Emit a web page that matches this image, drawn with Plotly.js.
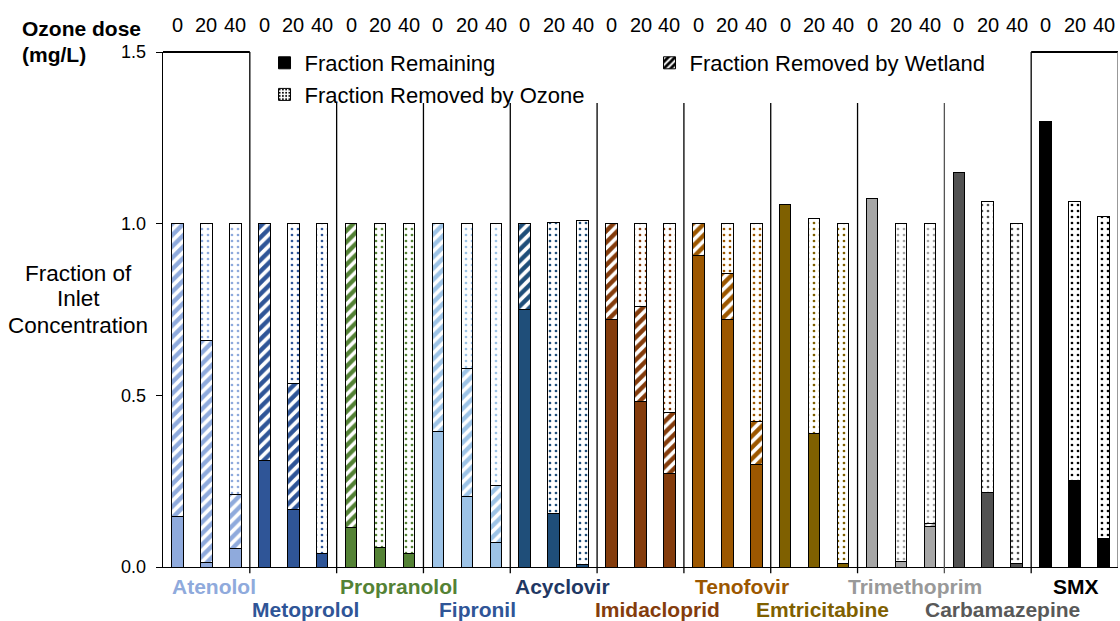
<!DOCTYPE html>
<html>
<head>
<meta charset="utf-8">
<script src="https://cdn.plot.ly/plotly-3.0.1.min.js"></script>
<style>html,body{margin:0;padding:0;background:#fff;}#chart{width:1120px;height:621px;}</style>
</head>
<body>
<div id="chart"></div>
<script>
// ---- data ----
const compounds = ['Atenolol','Metoprolol','Propranolol','Fipronil','Acyclovir','Imidacloprid','Tenofovir','Emtricitabine','Trimethoprim','Carbamazepine','SMX'];
const doses = ['0','20','40'];
// fraction remaining (one value per compound x dose)
const remaining = [
  0.147, 0.014, 0.054,
  0.311, 0.168, 0.039,
  0.115, 0.058, 0.039,
  0.396, 0.204, 0.071,
  0.749, 0.156, 0.006,
  0.721, 0.481, 0.272,
  0.906, 0.721, 0.300,
  1.055, 0.388, 0.011,
  1.072, 0.015, 0.119,
  1.149, 0.216, 0.011,
  1.298, 0.253, 0.084
];
// fraction removed by wetland
const wetland = [
  0.853, 0.646, 0.157,
  0.689, 0.366, 0.000,
  0.885, 0.000, 0.000,
  0.604, 0.373, 0.166,
  0.251, 0.000, 0.000,
  0.279, 0.277, 0.177,
  0.094, 0.134, 0.123,
  0.000, 0.000, 0.000,
  0.000, 0.000, 0.008,
  0.000, 0.000, 0.000,
  0.000, 0.000, 0.000
];
// fraction removed by ozone
const ozone = [
  0.000, 0.340, 0.789,
  0.000, 0.466, 0.961,
  0.000, 0.942, 0.961,
  0.000, 0.423, 0.763,
  0.000, 0.848, 1.002,
  0.000, 0.242, 0.551,
  0.000, 0.145, 0.577,
  0.000, 0.628, 0.989,
  0.000, 0.985, 0.873,
  0.000, 0.848, 0.989,
  0.000, 0.811, 0.936
];
const seriesNames = ['Fraction Remaining','Fraction Removed by Wetland','Fraction Removed by Ozone'];

// ---- styles ----
const barColors = ['#8FAADC','#2F5597','#548235','#9DC3E6','#1F4E79','#843C0C','#9C5700','#7F6000','#A6A6A6','#525252','#000000'];
const labelColors = ['#8FAADC','#2F5597','#548235','#2F5597','#1F3864','#843C0C','#9C5700','#7F6000','#999999','#595959','#000000'];
const labelShift = [8,12,19,11,9,17,15,8,14,15,1];
const FONT = '"Liberation Sans", Arial, sans-serif';

const xs = [], cols = [], doseLbl = [];
compounds.forEach((c, g) => doses.forEach((d, k) => {
  xs.push(g * doses.length + k);
  cols.push(barColors[g]);
  doseLbl.push(d);
}));
const nz = a => a.map(v => v > 0 ? v : null);
const W = 0.4;
const line = {color: '#000', width: 1};

const traces = [
  {type: 'bar', x: xs, y: nz(remaining), width: W, showlegend: false, hoverinfo: 'y',
   marker: {color: cols, line: line}},
  {type: 'bar', x: xs, y: nz(wetland), width: W, showlegend: false, hoverinfo: 'y',
   marker: {color: '#fff', line: line, pattern: {shape: '/', fgcolor: cols, bgcolor: '#fff', size: 8, solidity: 0.55}}},
  {type: 'bar', x: xs, y: nz(ozone), width: W, showlegend: false, hoverinfo: 'y',
   marker: {color: '#fff', line: line, pattern: {shape: '.', fgcolor: cols, bgcolor: '#fff', size: 6, solidity: 0.16}}},
  // legend entries
  {type: 'bar', x: [null], y: [null], name: seriesNames[0], marker: {color: '#000', line: line}},
  {type: 'bar', x: [null], y: [null], name: seriesNames[1], marker: {color: '#fff', line: line, pattern: {shape: '/', fgcolor: '#000', bgcolor: '#fff', size: 6, solidity: 0.6}}},
  {type: 'bar', x: [null], y: [null], name: seriesNames[2], marker: {color: '#fff', line: line, pattern: {shape: '.', fgcolor: '#000', bgcolor: '#fff', size: 4, solidity: 0.25}}}
];

// ---- annotations ----
const ann = [];
xs.forEach((x, i) => ann.push({x: x, xref: 'x', y: 1.0524, yref: 'paper', text: doseLbl[i], showarrow: false,
  xanchor: 'center', yanchor: 'middle', font: {family: FONT, size: 20, color: '#000'}}));
compounds.forEach((c, g) => ann.push({x: g * 3 + 1, xref: 'x', xshift: labelShift[g],
  y: g % 2 === 0 ? -0.037 : -0.082, yref: 'paper', text: '<b>' + c + '</b>', showarrow: false,
  xanchor: 'center', yanchor: 'middle', font: {family: FONT, size: 21, color: labelColors[g]}}));
['Ozone dose', '(mg/L)'].forEach((t, i) => ann.push({x: -0.1497, xref: 'paper', y: i === 0 ? 1.0447 : 0.9942, yref: 'paper',
  text: '<b>' + t + '</b>', showarrow: false, xanchor: 'left', yanchor: 'middle', font: {family: FONT, size: 21, color: '#000'}}));
['Fraction of', 'Inlet', 'Concentration'].forEach((t, i) => ann.push({x: -0.089, xref: 'paper', y: [0.569, 0.5204, 0.4699][i], yref: 'paper',
  text: t, showarrow: false, xanchor: 'center', yanchor: 'middle', font: {family: FONT, size: 22.5, color: '#000'}}));

// ---- shapes: group boxes & separators ----
const shapes = [];
shapes.push({type: 'line', xref: 'x', yref: 'paper', x0: -0.5, x1: 2.5, y0: 1, y1: 1, line: {color: '#000', width: 2}});
shapes.push({type: 'line', xref: 'x', yref: 'paper', x0: 29.5, x1: 32.5, y0: 1, y1: 1, line: {color: '#000', width: 2}});
for (let g = 1; g < compounds.length; g++) {
  const full = (g === 1 || g === compounds.length - 1);
  shapes.push({type: 'line', xref: 'x', yref: 'paper', x0: g * 3 - 0.5, x1: g * 3 - 0.5, y0: -0.012, y1: full ? 1 : 0.901,
    line: {color: g === 9 ? '#555' : '#000', width: 1.3}});
}
shapes.push({type: 'line', xref: 'x', yref: 'paper', x0: 32.5, x1: 32.5, y0: 0, y1: 1, line: {color: '#777', width: 1.5}});

const layout = {
  width: 1120, height: 621, autosize: false,
  margin: {l: 163, r: 2, t: 52, b: 54},
  paper_bgcolor: '#fff', plot_bgcolor: '#fff',
  barmode: 'stack',
  font: {family: FONT, color: '#000'},
  xaxis: {range: [-0.5, 32.5], showticklabels: false, ticks: '', showgrid: false, zeroline: false,
    showline: true, linecolor: '#000', linewidth: 1.3, fixedrange: true},
  yaxis: {range: [0, 1.5], tickvals: [0, 0.5, 1.0, 1.5], tickformat: '.1f', ticks: 'outside', ticklen: 6,
    tickcolor: '#000', tickwidth: 1, ticklabelstandoff: 6, showgrid: false, zeroline: false,
    showline: true, linecolor: '#000', linewidth: 1.3, tickfont: {family: FONT, size: 18, color: '#000'}},
  legend: {orientation: 'h', x: 0.1063, y: 1.0194, xanchor: 'left', yanchor: 'top', entrywidth: 340,
    font: {family: FONT, size: 22, color: '#000'}, bgcolor: 'rgba(0,0,0,0)', traceorder: 'normal'},
  annotations: ann,
  shapes: shapes,
  showlegend: true
};

Plotly.newPlot('chart', traces, layout, {displayModeBar: false, staticPlot: true});
</script>
</body>
</html>
